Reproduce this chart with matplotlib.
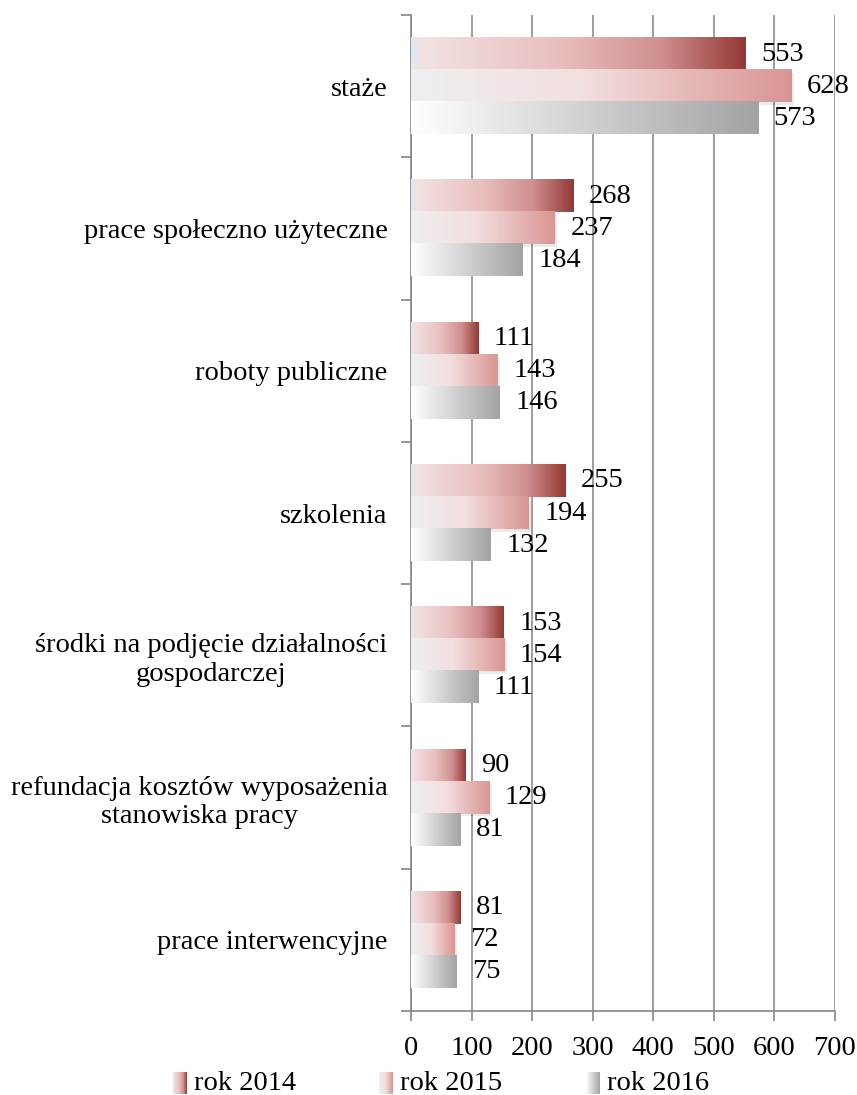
import matplotlib
matplotlib.use('Agg')

import numpy as np
import matplotlib.pyplot as plt
from matplotlib.colors import LinearSegmentedColormap
from matplotlib.patches import Rectangle

# data
categories = ["staże", "prace społeczno użyteczne", "roboty publiczne", "szkolenia",
              "środki na podjęcie działalności\ngospodarczej",
              "refundacja kosztów wyposażenia\nstanowiska pracy",
              "prace interwencyjne"]
years = ["rok 2014", "rok 2015", "rok 2016"]
v2014 = [553, 268, 111, 255, 153, 90, 81]
v2015 = [628, 237, 143, 194, 154, 129, 72]
v2016 = [573, 184, 146, 132, 111, 81, 75]
x_ticks = [0, 100, 200, 300, 400, 500, 600, 700]

plt.rcParams['font.family'] = ['Liberation Serif', 'DejaVu Serif']

cmaps = [
    LinearSegmentedColormap.from_list("c14", [(0, "#dbe9f3"), (0.03, "#f3e2e2"), (0.45, "#e8bebd"),
                                              (0.75, "#cf8f8e"), (1, "#943836")]),
    LinearSegmentedColormap.from_list("c15", [(0, "#efefef"), (0.45, "#f3dfdf"), (1, "#d99593")]),
    LinearSegmentedColormap.from_list("c16", [(0, "#ffffff"), (1, "#a3a3a3")]),
]
grad = np.linspace(0, 1, 256).reshape(1, -1)

fig = plt.figure(figsize=(8.57, 10.95), dpi=100)
ax = fig.add_axes([0.4796, 0.0767, 0.4947, 0.9096])

n = len(categories)
y = np.arange(n)
h = 0.225
series = [v2014, v2015, v2016]
offsets = [-h, 0, h]

for s, (vals, off, cm) in enumerate(zip(series, offsets, cmaps)):
    bars = ax.barh(y + off, vals, height=h, color="none", edgecolor="none", zorder=3)
    for b, v in zip(bars, vals):
        x0, yb = b.get_x(), b.get_y()
        if s == 1:
            # soft shadow on the middle series
            ax.add_patch(Rectangle((x0, yb + 0.02), v + 4, h, color="#000000",
                                   alpha=0.08, lw=0, zorder=2.5))
        ax.imshow(grad, extent=[x0, x0 + v, yb + h, yb], cmap=cm, aspect="auto",
                  interpolation="bilinear", zorder=3)
        ax.text(v + 26, yb + h / 2, str(v), va="center", ha="left", fontsize=20.5, zorder=4)

ax.set_xlim(0, 700)
ax.set_ylim(n - 0.5, -0.5)
ax.set_xticks(x_ticks)
ax.set_xticklabels([str(t) for t in x_ticks], fontsize=20.5)
ax.set_yticks(np.arange(n + 1) - 0.5, minor=False)
ax.set_yticklabels([])
ax.set_yticks(y, minor=True)
ax.set_yticklabels(categories, minor=True, fontsize=20.5, ha="right", multialignment="center")
ax.tick_params(axis="y", which="minor", length=0, pad=17)
ax.tick_params(axis="y", which="major", length=7, width=1.2, color="#868686")
ax.tick_params(axis="x", length=7, width=1.2, color="#868686", pad=11)

ax.grid(axis="x", color="#8c8c8c", lw=1.2, zorder=0)
ax.set_axisbelow(True)
for side in ["top", "right"]:
    ax.spines[side].set_visible(False)
for side in ["left", "bottom"]:
    ax.spines[side].set_color("#868686")
    ax.spines[side].set_linewidth(1.2)

# legend with gradient swatches
leg_x = [173, 379, 586]
for lx, label, cm in zip(leg_x, years, cmaps):
    lax = fig.add_axes([lx / 857, 1 - 1094 / 1095, 14 / 857, 22 / 1095])
    lax.imshow(grad, cmap=cm, aspect="auto", interpolation="bilinear")
    lax.axis("off")
    fig.text((lx + 21) / 857, 1 - 1084 / 1095, label, fontsize=20.5, va="center", ha="left")

plt.savefig("out.png", dpi=100)
plt.close()
